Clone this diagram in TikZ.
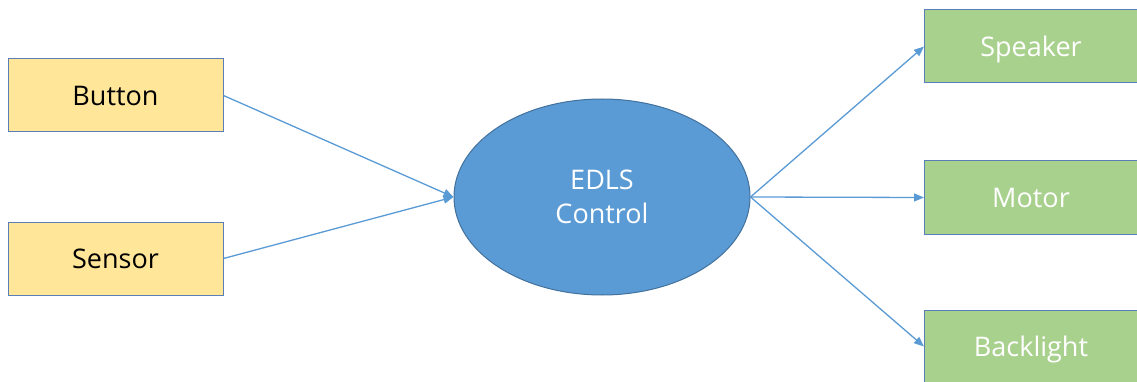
\documentclass[tikz,border=0pt]{standalone}
\usepackage{fontspec}
\setmainfont{Open Sans}
\usetikzlibrary{shapes.geometric,arrows.meta}
\definecolor{inbox}{HTML}{FFE699}
\definecolor{outbox}{HTML}{A9D18E}
\definecolor{core}{HTML}{5B9BD5}
\definecolor{edge}{HTML}{41719C}
\definecolor{boxline}{HTML}{5A7FB8}
\begin{document}
\begin{tikzpicture}[x=1pt,y=-1pt,
  label font/.style={font=\fontsize{27}{34}\selectfont},
  plainbox/.style={draw=boxline, line width=1pt, minimum height=73pt, inner sep=0pt, label font, text height=20pt, text depth=0pt},
  inputbox/.style={plainbox, fill=inbox, minimum width=215pt, text=black},
  outputbox/.style={plainbox, fill=outbox, minimum width=230pt, text=white},
  corenode/.style={ellipse, draw=edge, line width=1pt, fill=core, minimum width=296pt, minimum height=196pt, inner sep=0pt, label font, text=white, align=center},
  link/.style={draw=core, line width=1.3pt, -{Triangle[length=10pt,width=8pt]}}]
\clip (0,0) rectangle (1137,382);
\fill[white] (0,0) rectangle (1137,382);
\node[inputbox] (button) at (115.5,95.5) {Button};
\node[inputbox] (sensor) at (115.5,258.5) {Sensor};
\node[corenode] (ctrl) at (602,197) {EDLS\\Control};
\node[outputbox, anchor=west] (speaker) at (924,46.5) {\hspace*{-17pt}Speaker};
\node[outputbox, anchor=west] (motor) at (924,197.5) {\hspace*{-17pt}Motor};
\node[outputbox, anchor=west] (backlight) at (924,346.5) {\hspace*{-17pt}Backlight};
\draw[link] (button.east) -- (ctrl.west);
\draw[link] (sensor.east) -- (ctrl.west);
\draw[link] (ctrl.east) -- (speaker.west);
\draw[link] (ctrl.east) -- (motor.west);
\draw[link] (ctrl.east) -- (backlight.west);
\end{tikzpicture}
\end{document}
